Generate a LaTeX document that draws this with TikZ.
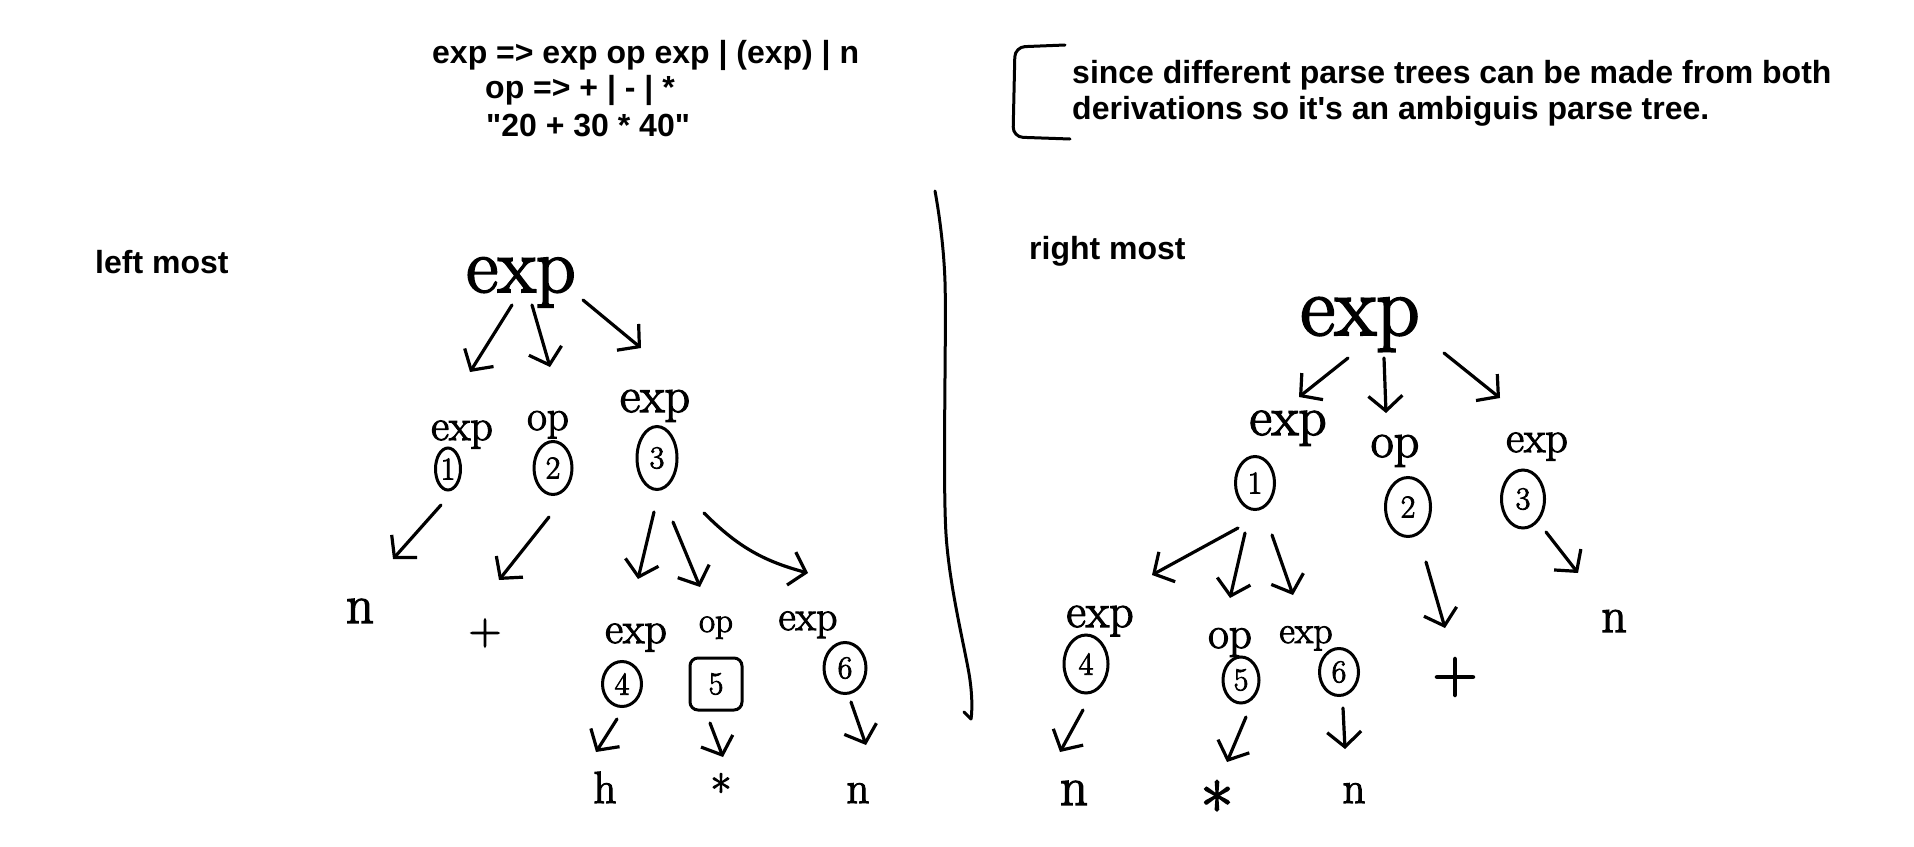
\documentclass[tikz,border=0pt]{standalone}
\usepackage{fontspec}
\newfontfamily\hdr{Liberation Sans}
\newfontfamily\hand[FakeBold=2.5]{Latin Modern Roman}
\usetikzlibrary{arrows.meta,shapes.geometric}
\begin{document}
\begin{tikzpicture}[x=1pt,y=-1pt,
  hw/.style={inner sep=0pt, anchor=base, font=\hand\fontsize{#1}{#1}\selectfont},
  sym/.style={inner sep=0pt, anchor=center, font=\hand\fontsize{#1}{#1}\selectfont},
  hdrtext/.style={inner sep=0pt, anchor=base west, font=\hdr\bfseries\fontsize{32}{36}\selectfont},
  num/.style={ellipse, draw, line width=3pt, inner sep=0pt, font=\hand\fontsize{32}{32}\selectfont},
  arr/.style={line width=3.2pt, line cap=round, line join=round, -{Straight Barb[length=15pt,width=34pt]}},
  stroke/.style={line width=3pt, line cap=round, line join=round}]
\useasboundingbox (0,0) rectangle (1914,846);

% header
\node[hdrtext] (g1) at (432,63) {exp => exp op exp | (exp) | n};
\node[hdrtext] (g2) at (485,98) {op => + | - | *};
\node[hdrtext] (g3) at (486,136) {"20 + 30 * 40"};
\node[hdrtext] (c1) at (1072,83) {since different parse trees can be made from both};
\node[hdrtext] (c2) at (1072,119) {derivations so it's an ambiguis parse tree.};
\draw[stroke, rounded corners=10pt] (1065,45) -- (1015,47) -- (1013,137) -- (1070,139);
\node[hdrtext] (lm) at (95,273) {left most};
\node[hdrtext] (rm) at (1029,259) {right most};

% divider
\draw[stroke] plot[smooth] coordinates {(935,191) (945,282) (946,534) (970,680) (971,719)};
\draw[stroke] (964,712) -- (971,719);

% ---------- left tree ----------
\node[hw=78] (lroot) at (521,292) {exp};
\node[hw=44] (lexpA) at (462,440) {exp};
\node[hw=43] (lopB) at (548,430) {op};
\node[hw=50] (lexpC) at (655,412) {exp};
\node[num, minimum width=25, minimum height=42] (lc1) at (448,469) {1};
\node[num, minimum width=38, minimum height=53] (lc2) at (553,468) {2};
\node[num, minimum width=40, minimum height=63] (lc3) at (657,458) {3};
\node[hw=55] (ln1) at (360,623) {n};
\node[sym=45] (lplus) at (485,633) {+};
\node[hw=44] (lexpD) at (636,643) {exp};
\node[hw=35] (lopE) at (716,632) {op};
\node[hw=42] (lexpF) at (808,630) {exp};
\node[num, minimum width=39, minimum height=45] (lc4) at (622,684) {4};
\node[draw, line width=3pt, rounded corners=8pt, inner sep=0pt, minimum width=52, minimum height=52, font=\hand\fontsize{32}{32}\selectfont] (lc5) at (716,684) {5};
\node[num, minimum width=42, minimum height=51] (lc6) at (845,668) {6};
\node[hw=45] (lh) at (605,803) {h};
\node[hw=45] (last) at (721,807) {*};
\node[hw=45] (ln2) at (858,803) {n};

\draw[arr] ([shift={(-9,13)}]lroot.base) -- ([shift={(8,-68)}]lexpA.base);
\draw[arr] ([shift={(11,13)}]lroot.base) -- ([shift={(2,-63)}]lopB.base);
\draw[arr] ([shift={(62,8)}]lroot.base) -- ([shift={(-14,-64)}]lexpC.base);
\draw[arr] ([shift={(-7,36)}]lc1.center) -- ([shift={(33,-64)}]ln1.base);
\draw[arr] ([shift={(-4,49)}]lc2.center) -- ([shift={(14,-53)}]lplus.center);
\draw[arr] ([shift={(-3,54)}]lc3.center) -- ([shift={(2,-64)}]lexpD.base);
\draw[arr] ([shift={(16,64)}]lc3.center) -- ([shift={(-16,-45)}]lopE.base);
\draw[arr] ([shift={(47,55)}]lc3.center) to[bend right=15] ([shift={(0,-57)}]lexpF.base);
\draw[arr] ([shift={(-5,35)}]lc4.center) -- ([shift={(-9,-51)}]lh.base);
\draw[arr] ([shift={(-6,39)}]lc5.center) -- ([shift={(2,-50)}]last.base);
\draw[arr] ([shift={(6,34)}]lc6.center) -- ([shift={(8,-58)}]ln2.base);

% ---------- right tree ----------
\node[hw=85] (rroot) at (1360,335) {exp};
\node[hw=55] (rexpA) at (1288,435) {exp};
\node[hw=50] (ropB) at (1395,457) {op};
\node[hw=44] (rexpC) at (1537,452) {exp};
\node[num, minimum width=39, minimum height=53] (rc1) at (1255,483) {1};
\node[num, minimum width=45, minimum height=59] (rc2) at (1408,507) {2};
\node[num, minimum width=43, minimum height=58] (rc3) at (1523,499) {3};
\node[hw=48] (rexpD) at (1100,627) {exp};
\node[hw=45] (ropE) at (1230,648) {op};
\node[hw=38] (rexpF) at (1306,643) {exp};
\node[sym=62] (rplus) at (1455,677) {+};
\node[hw=50] (rn1) at (1614,632) {n};
\node[num, minimum width=44, minimum height=58] (rc4) at (1086,664) {4};
\node[num, minimum width=36, minimum height=46] (rc5) at (1241,680) {5};
\node[num, minimum width=39, minimum height=47] (rc6) at (1339,672) {6};
\node[hw=55] (rn2) at (1074,805) {n};
\node[hw=70] (rast) at (1217,833) {*};
\node[hw=45] (rn3) at (1354,803) {n};

\draw[arr] ([shift={(-12,23)}]rroot.base) -- ([shift={(11,-38)}]rexpA.base);
\draw[arr] ([shift={(24,23)}]rroot.base) -- ([shift={(-9,-44)}]ropB.base);
\draw[arr] ([shift={(84,18)}]rroot.base) -- ([shift={(-37,-54)}]rexpC.base);
\draw[arr] ([shift={(-17,45)}]rc1.center) -- ([shift={(52,-52)}]rexpD.base);
\draw[arr] ([shift={(-10,50)}]rc1.center) -- ([shift={(0,-50)}]ropE.base);
\draw[arr] ([shift={(17,52)}]rc1.center) -- ([shift={(-13,-48)}]rexpF.base);
\draw[arr] ([shift={(18,55)}]rc2.center) -- ([shift={(-10,-49)}]rplus.center);
\draw[arr] ([shift={(23,33)}]rc3.center) -- ([shift={(-36,-59)}]rn1.base);
\draw[arr] ([shift={(-3,46)}]rc4.center) -- ([shift={(-14,-53)}]rn2.base);
\draw[arr] ([shift={(5,37)}]rc5.center) -- ([shift={(10,-71)}]rast.base);
\draw[arr] ([shift={(4,36)}]rc6.center) -- ([shift={(-9,-54)}]rn3.base);
\end{tikzpicture}
\end{document}
